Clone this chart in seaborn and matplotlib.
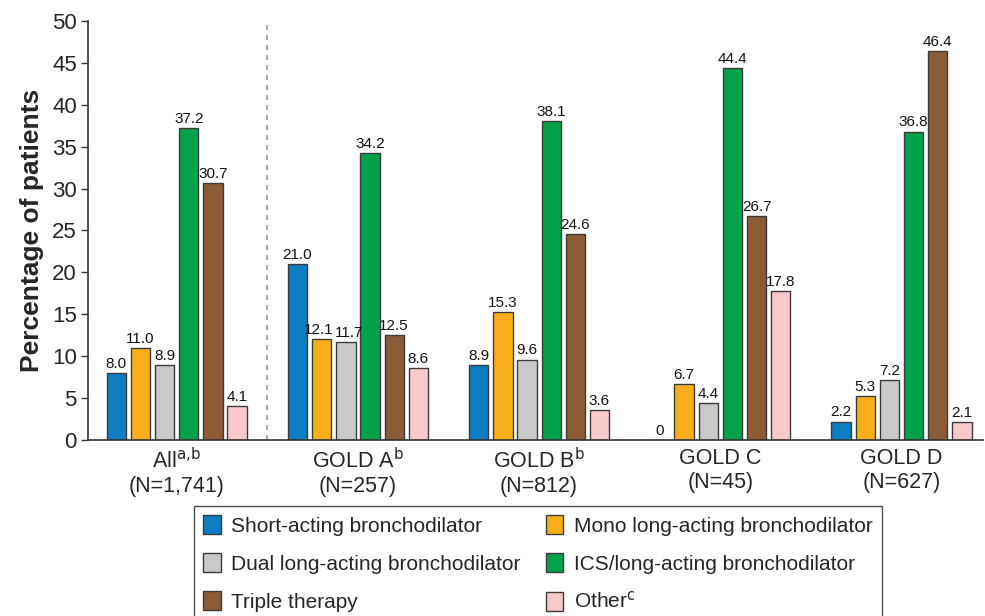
import matplotlib
matplotlib.use("Agg")
import matplotlib.pyplot as plt
import seaborn as sns
import pandas as pd

groups = ["All$^{\\mathrm{a{,}b}}$\n(N=1,741)", "GOLD A$^{\\mathrm{b}}$\n(N=257)",
          "GOLD B$^{\\mathrm{b}}$\n(N=812)", "GOLD C\n(N=45)", "GOLD D\n(N=627)"]
series = ["Short-acting bronchodilator", "Mono long-acting bronchodilator",
          "Dual long-acting bronchodilator", "ICS/long-acting bronchodilator",
          "Triple therapy", "Other$^{\\mathrm{c}}$"]
short_acting = [8.0, 21.0, 8.9, 0.0, 2.2]
mono_laba = [11.0, 12.1, 15.3, 6.7, 5.3]
dual_laba = [8.9, 11.7, 9.6, 4.4, 7.2]
ics_laba = [37.2, 34.2, 38.1, 44.4, 36.8]
triple = [30.7, 12.5, 24.6, 26.7, 46.4]
other = [4.1, 8.6, 3.6, 17.8, 2.1]
values = [short_acting, mono_laba, dual_laba, ics_laba, triple, other]
colors = ["#0b7dc0", "#f8ad1a", "#c8c9cb", "#00a14b", "#8b5b36", "#f8c9ca"]
yticks = list(range(0, 51, 5))

rows = []
for s, vals in zip(series, values):
    for g, v in zip(groups, vals):
        rows.append({"group": g, "series": s, "value": v})
df = pd.DataFrame(rows)

sns.set_theme(style="white")
plt.rcParams["font.family"] = ["Liberation Sans", "DejaVu Sans"]
plt.rcParams["mathtext.default"] = "regular"

fig = plt.figure(figsize=(9.85, 6.16), dpi=100)
ax = fig.add_axes([0.0893, 0.2857, 0.9087, 0.6803])
sns.barplot(data=df, x="group", y="value", hue="series", order=groups,
            hue_order=series, palette=colors, width=0.8, ax=ax,
            edgecolor="#3c3c3c", linewidth=1.0, saturation=1, legend=True)

# shrink bars slightly to leave gaps
for p in ax.patches:
    w = p.get_width()
    if w > 0:
        nw = w * 0.8
        p.set_x(p.get_x() + (w - nw) / 2)
        p.set_width(nw)

all_anns = []
for cont in ax.containers:
    labs = []
    for b in cont:
        h = b.get_height()
        labs.append("0" if h == 0 else f"{h:.1f}")
    anns = ax.bar_label(cont, labels=labs, fontsize=11, padding=1.5, color="#111111")
    all_anns.append(anns)

# nudge the two adjacent labels in GOLD A that would otherwise collide
all_anns[1][1].xyann = (-2.2, 1.5)
all_anns[2][1].xyann = (2.2, 1.5)

ax.set_ylim(0, 50)
ax.set_xlim(-0.49, 4.45)
ax.set_yticks(yticks)
ax.set_yticklabels([str(t) for t in yticks], fontsize=16)
ax.tick_params(axis="x", labelsize=15.5, length=0, pad=6)
ax.tick_params(axis="y", length=5, width=1, color="#333333", left=True, pad=3)
for t in ax.get_xticklabels():
    t.set_linespacing(1.15)
ax.set_xlabel("")
ax.set_ylabel("Percentage of patients", fontsize=19, fontweight="bold", labelpad=6)
for sp in ["top", "right"]:
    ax.spines[sp].set_visible(False)
for sp in ["left", "bottom"]:
    ax.spines[sp].set_color("#333333")
    ax.spines[sp].set_linewidth(1.2)
ax.axvline(0.5, color="#999999", linestyle=(0, (3, 3)), linewidth=1.2)

handles, labels = ax.get_legend_handles_labels()
order = [0, 2, 4, 1, 3, 5]
ax.legend([handles[i] for i in order], [labels[i] for i in order], ncol=2,
          loc="upper left", bbox_to_anchor=(0.186, 0.196), bbox_transform=fig.transFigure,
          frameon=True, fancybox=False, edgecolor="#222222", fontsize=15,
          handlelength=0.85, handleheight=1.0, handletextpad=0.5, columnspacing=1.2,
          labelspacing=0.85, borderpad=0.45)
ax.get_legend().get_frame().set_linewidth(1.0)

fig.savefig("out.png", dpi=100)
